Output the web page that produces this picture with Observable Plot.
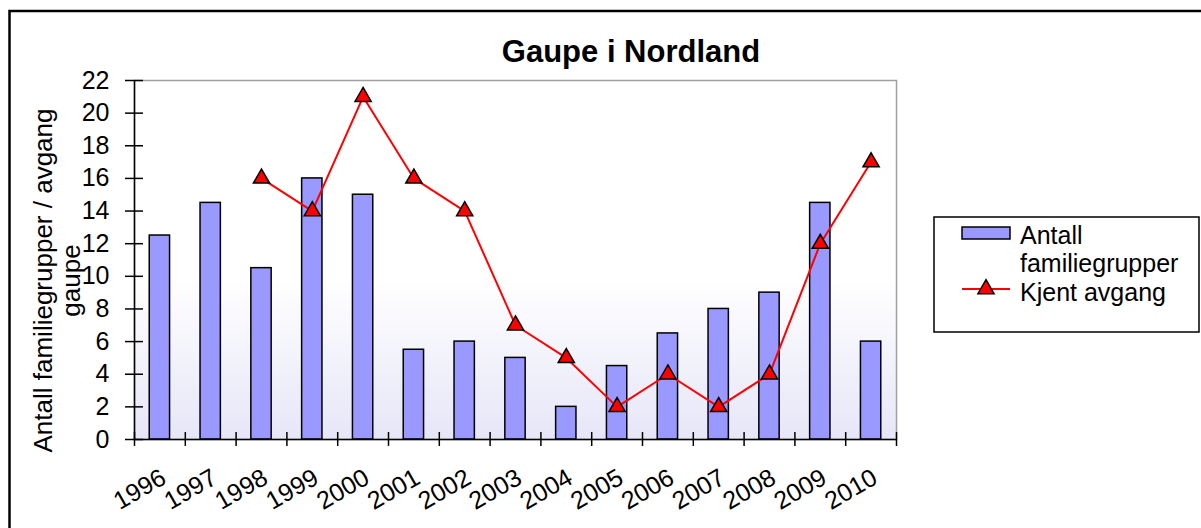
<!DOCTYPE html>
<html>
<head>
<meta charset="utf-8">
<script src="https://cdn.jsdelivr.net/npm/d3@7"></script>
<script src="https://cdn.jsdelivr.net/npm/@observablehq/plot@0.6"></script>
<style>
  body { margin: 0; background: #fff; }
  #wrap { position: relative; width: 1201px; height: 528px; overflow: hidden; }
  svg { display: block; }
  #wrap svg g[aria-label="y-axis tick label"] text,
  #wrap svg g[aria-label="x-axis tick label"] text { font-size: 25px; }
</style>
</head>
<body>
<div id="wrap"></div>
<script>
// ---- data ----
const years = [1996, 1997, 1998, 1999, 2000, 2001, 2002, 2003, 2004, 2005, 2006, 2007, 2008, 2009, 2010];
const familiegrupper = [12.5, 14.5, 10.5, 16, 15, 5.5, 6, 5, 2, 4.5, 6.5, 8, 9, 14.5, 6];
const avgang = [null, null, 16, 14, 21, 16, 14, 7, 5, 2, 4, 2, 4, 12, 17];
const yTicks = [0, 2, 4, 6, 8, 10, 12, 14, 16, 18, 20, 22];
const seriesNames = ["Antall familiegrupper", "Kjent avgang"];
const legendLines = ["Antall", "familiegrupper"];
const titleText = "Gaupe i Nordland";
const yTitle = ["Antall familiegrupper / avgang", "gaupe"];

// ---- tables ----
const bars = years.map((year, i) => ({year, value: familiegrupper[i]}));
const line = years.map((year, i) => ({year, value: avgang[i]})).filter(d => d.value != null);
const bounds = [years[0] - 0.5, ...years.map(y => y + 0.5)];
const half = 0.2;

const FONT = "'Liberation Sans', Arial, sans-serif";

const chart = Plot.plot({
  width: 1201,
  height: 528,
  marginLeft: 134,
  marginRight: 305,
  marginTop: 80,
  marginBottom: 89,
  style: {fontFamily: FONT, fontSize: "25px", background: "transparent", color: "#000", overflow: "visible"},
  x: {type: "linear", domain: [bounds[0], bounds[bounds.length - 1]], label: null},
  y: {domain: [0, 22], label: null},
  marks: [
    Plot.frame({fill: "url(#plotbg)", stroke: "#a0a0a0", strokeWidth: 1.5}),
    Plot.rectY(bars, {x1: d => d.year - half, x2: d => d.year + half, y: "value", fill: "#9999ff", stroke: "#000", strokeWidth: 1.5}),
    Plot.ruleY([0], {stroke: "#000", strokeWidth: 1.5}),
    Plot.ruleX([bounds[0]], {stroke: "#000", strokeWidth: 1.5}),
    Plot.axisX({ticks: bounds, tickSize: 14, dy: -7, tickFormat: () => "", stroke: "#000", strokeWidth: 1.5, label: null}),
    Plot.axisX({ticks: years, tickSize: 0, tickRotate: -30, tickPadding: 36, dx: 4, tickFormat: d => String(d), fontSize: 25, label: null}),
    Plot.axisY({ticks: yTicks, tickSize: 18, dx: 9, tickFormat: () => "", stroke: "#000", strokeWidth: 1.5, label: null}),
    Plot.axisY({ticks: yTicks, tickSize: 0, tickPadding: 25, tickFormat: d => String(d), fontSize: 25, label: null}),
    Plot.line(line, {x: "year", y: "value", stroke: "#ff0000", strokeWidth: 2}),
    Plot.dot(line, {x: "year", y: "value", symbol: "triangle", r: 6, fill: "#ff0000", stroke: "#000", strokeWidth: 1.5})
  ]
});

document.getElementById("wrap").appendChild(chart);

const svg = d3.select(chart);
const defs = svg.insert("defs", ":first-child");
const grad = defs.append("linearGradient").attr("id", "plotbg")
  .attr("x1", 0).attr("y1", 0).attr("x2", 0).attr("y2", 1);
grad.append("stop").attr("offset", "0").attr("stop-color", "#ffffff");
grad.append("stop").attr("offset", "0.55").attr("stop-color", "#ffffff");
grad.append("stop").attr("offset", "1").attr("stop-color", "#e6e6f8");

// outer frame (top + left visible)
svg.append("path").attr("d", "M9.5,528 L9.5,11 L1201,11")
  .attr("fill", "none").attr("stroke", "#000").attr("stroke-width", 2.5);

// title
svg.append("text").attr("x", 631).attr("y", 62).attr("text-anchor", "middle")
  .attr("font-family", FONT).attr("font-size", 31).attr("font-weight", "bold")
  .text(titleText);

// y title
const yt = svg.append("text").attr("transform", "translate(52,280.5) rotate(-90)")
  .attr("text-anchor", "middle").attr("font-family", FONT).attr("font-size", 26);
yt.append("tspan").attr("x", 0).attr("y", 0).text(yTitle[0]);
yt.append("tspan").attr("x", 0).attr("y", 28).text(yTitle[1]);

// legend
const lg = svg.append("g").attr("font-family", FONT).attr("font-size", 25).attr("text-anchor", "start");
lg.append("rect").attr("x", 934).attr("y", 217).attr("width", 265).attr("height", 115)
  .attr("fill", "#fff").attr("stroke", "#000").attr("stroke-width", 1.5);
lg.append("rect").attr("x", 962).attr("y", 227).attr("width", 48).attr("height", 12)
  .attr("fill", "#9999ff").attr("stroke", "#000").attr("stroke-width", 1.5);
lg.append("text").attr("x", 1020).attr("y", 244).attr("text-anchor", "start").text(legendLines[0]);
lg.append("text").attr("x", 1020).attr("y", 272).attr("text-anchor", "start").text(legendLines[1]);
lg.append("line").attr("x1", 962).attr("x2", 1010).attr("y1", 289).attr("y2", 289)
  .attr("stroke", "#ff0000").attr("stroke-width", 2);
lg.append("path").attr("d", d3.symbol(d3.symbolTriangle, Math.PI * 6 * 6)())
  .attr("transform", "translate(986,289)")
  .attr("fill", "#ff0000").attr("stroke", "#000").attr("stroke-width", 1.5);
lg.append("text").attr("x", 1020).attr("y", 301).attr("text-anchor", "start").text(seriesNames[1]);
</script>
</body>
</html>
